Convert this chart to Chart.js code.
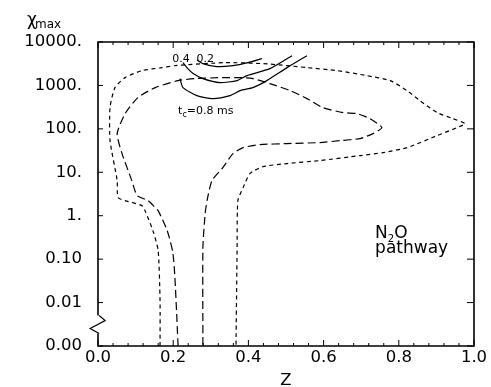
<!DOCTYPE html>
<html>
<head>
<meta charset="utf-8">
<script src="https://cdn.jsdelivr.net/npm/chart.js@4.4.1/dist/chart.umd.min.js"></script>
<style>
  html, body { margin: 0; padding: 0; background: #fff; }
  #wrap { width: 491px; height: 387px; }
</style>
</head>
<body>
<div id="wrap"><canvas id="chart"></canvas></div>
<script>
// outer contour (short dashes)
const outerZ = [0.165, 0.165, 0.160, 0.146, 0.125, 0.117, 0.072, 0.053, 0.051, 0.032, 0.032, 0.045, 0.072, 0.117, 0.170, 0.205, 0.338, 0.439, 0.503, 0.556, 0.636, 0.715, 0.777, 0.822, 0.856, 0.902, 0.944, 0.976, 0.955, 0.902, 0.822, 0.758, 0.697, 0.590, 0.503, 0.439, 0.404, 0.386, 0.372, 0.370, 0.367]
const outerChi = [0.001, 0.0111, 0.158, 0.455, 1.31, 1.71, 2.23, 2.62, 6.44, 53.7, 308, 890, 1513, 2192, 2570, 2857, 3350, 3177, 2857, 2570, 2192, 1680, 1290, 759, 447, 237, 172, 132, 107, 70, 37, 28.4, 24.2, 18.6, 15.9, 13.5, 9.33, 4.45, 2.23, 0.185, 0.001]

// inner contour (long dashes)
const innerZ = [0.213, 0.205, 0.199, 0.184, 0.160, 0.152, 0.133, 0.104, 0.090, 0.064, 0.051, 0.072, 0.106, 0.152, 0.213, 0.258, 0.330, 0.378, 0.412, 0.457, 0.511, 0.556, 0.598, 0.652, 0.689, 0.723, 0.755, 0.731, 0.697, 0.644, 0.590, 0.503, 0.431, 0.386, 0.359, 0.332, 0.303, 0.290, 0.285, 0.279, 0.279]
const innerChi = [0.001, 0.032, 0.142, 0.455, 1.31, 1.54, 2.23, 2.91, 6.44, 26.9, 77.8, 224, 524, 890, 1290, 1434, 1513, 1513, 1434, 1100, 759, 497, 308, 237, 224, 172, 107, 77.8, 59.7, 53.7, 48.3, 45.8, 43.4, 37, 26.9, 12.8, 6.44, 2.23, 1.12, 0.185, 0.001]

// solid curves, t_c = 0.2, 0.4, 0.8 ms
const tc02Z = [0.263, 0.279, 0.316, 0.359, 0.399, 0.436]
const tc02Chi = [3926, 3177, 2710, 2857, 3350, 4140]
const tc04Z = [0.226, 0.239, 0.253, 0.279, 0.324, 0.370, 0.396, 0.457, 0.516]
const tc04Chi = [3350, 2437, 1870, 1434, 1160, 1290, 1680, 2437, 4850]
const tc08Z = [0.218, 0.226, 0.263, 0.306, 0.351, 0.378, 0.412, 0.449, 0.503, 0.556]
const tc08Chi = [1434, 890, 582, 497, 582, 759, 890, 1290, 2570, 4850]

// axis break symbol on the left axis
const breakZ = [0.003, 0.019, -0.021, 0.003]
const breakChi = [0.00503, 0.00386, 0.00253, 0.00194]

const yTicks = [0.001, 0.01, 0.1, 1, 10, 100, 1000, 10000]
const yTickLabels = ["0.00", "0.01", "0.10", "1.", "10.", "100.", "1000.", "10000."]
const xTicks = [0, 0.2, 0.4, 0.6, 0.8, 1.0]

const FONT = "DejaVu Sans"

function pts(xs, ys) {
  return xs.map((v, i) => ({ x: v, y: ys[i] }))
}

function curve(xs, ys, dash) {
  return {
    data: pts(xs, ys),
    showLine: true,
    borderColor: "#000",
    borderWidth: 1.2,
    borderDash: dash,
    pointRadius: 0,
    tension: 0.2,
    fill: false
  }
}

// frame, inward ticks and the text labels
const decorations = {
  id: "decorations",
  afterDatasetsDraw(chart) {
    const { ctx, chartArea: a, scales: { x, y } } = chart
    ctx.save()
    ctx.strokeStyle = "#000"
    ctx.fillStyle = "#000"
    ctx.lineWidth = 1.6

    const gapTop = y.getPixelForValue(breakChi[0])
    const gapBottom = y.getPixelForValue(breakChi[breakChi.length - 1])
    ctx.beginPath()
    ctx.moveTo(a.left, gapTop)
    ctx.lineTo(a.left, a.top)
    ctx.lineTo(a.right, a.top)
    ctx.lineTo(a.right, a.bottom)
    ctx.lineTo(a.left, a.bottom)
    ctx.lineTo(a.left, gapBottom)
    ctx.stroke()

    ctx.lineWidth = 1
    ctx.beginPath()
    yTicks.forEach(v => {
      const py = y.getPixelForValue(v)
      ctx.moveTo(a.left, py); ctx.lineTo(a.left + 5, py)
      ctx.moveTo(a.right, py); ctx.lineTo(a.right - 7, py)
    })
    for (let k = 0; k <= 25; k++) {
      const px = x.getPixelForValue(k * 0.04)
      const len = k % 5 === 0 ? 6 : 3
      ctx.moveTo(px, a.bottom); ctx.lineTo(px, a.bottom - len)
      ctx.moveTo(px, a.top); ctx.lineTo(px, a.top + len)
    }
    ctx.stroke()

    // y axis title
    ctx.textAlign = "left"
    ctx.textBaseline = "alphabetic"
    ctx.font = `17px ${FONT}`
    ctx.fillText("χ", 27, a.top - 17)
    ctx.font = `12px ${FONT}`
    ctx.fillText("max", 35, a.top - 14)

    // curve labels
    ctx.font = `11px ${FONT}`
    ctx.textAlign = "center"
    ctx.fillText("0.4", x.getPixelForValue(0.221), y.getPixelForValue(3530))
    ctx.fillText("0.2", x.getPixelForValue(0.285), y.getPixelForValue(3530))

    ctx.textAlign = "left"
    let tx = x.getPixelForValue(0.213)
    const ty = y.getPixelForValue(224)
    ctx.font = `11px ${FONT}`
    ctx.fillText("t", tx, ty)
    tx += ctx.measureText("t").width
    ctx.font = `8px ${FONT}`
    ctx.fillText("c", tx, ty + 3)
    tx += ctx.measureText("c").width
    ctx.font = `11px ${FONT}`
    ctx.fillText("=0.8 ms", tx, ty)

    // N2O pathway
    let nx = x.getPixelForValue(0.737)
    const ny = y.getPixelForValue(0.314)
    ctx.font = `17px ${FONT}`
    ctx.fillText("N", nx, ny)
    nx += ctx.measureText("N").width
    ctx.font = `10px ${FONT}`
    ctx.fillText("2", nx, ny + 4)
    nx += ctx.measureText("2").width
    ctx.font = `17px ${FONT}`
    ctx.fillText("O", nx, ny)
    ctx.fillText("pathway", x.getPixelForValue(0.737), y.getPixelForValue(0.135))

    ctx.restore()
  }
}

new Chart(document.getElementById("chart"), {
  type: "scatter",
  data: {
    datasets: [
      curve(outerZ, outerChi, [4, 3.5]),
      curve(innerZ, innerChi, [8, 4]),
      curve(tc02Z, tc02Chi, []),
      curve(tc04Z, tc04Chi, []),
      curve(tc08Z, tc08Chi, []),
      Object.assign(curve(breakZ, breakChi, []), { tension: 0, clip: false })
    ]
  },
  options: {
    responsive: true,
    maintainAspectRatio: false,
    animation: false,
    layout: { padding: { top: 42, right: 17, left: 0, bottom: 0 } },
    plugins: {
      legend: { display: false },
      tooltip: { enabled: false }
    },
    scales: {
      x: {
        type: "linear",
        min: 0,
        max: 1,
        afterBuildTicks: scale => { scale.ticks = xTicks.map(v => ({ value: v })) },
        afterFit: scale => { scale.height = 41 },
        grid: { display: false, drawTicks: false },
        border: { display: false },
        ticks: {
          color: "#000",
          padding: 2,
          font: { family: FONT, size: 16.5 },
          callback: v => v.toFixed(1)
        },
        title: {
          display: true,
          text: "Z",
          color: "#000",
          font: { family: FONT, size: 16.5 },
          padding: { top: 0, bottom: -4 }
        }
      },
      y: {
        type: "logarithmic",
        min: 0.001,
        max: 10000,
        afterBuildTicks: scale => { scale.ticks = yTicks.map(v => ({ value: v })) },
        afterFit: scale => { scale.width = 98 },
        grid: { display: false, drawTicks: false },
        border: { display: false },
        ticks: {
          color: "#000",
          padding: 16,
          font: { family: FONT, size: 16.5 },
          callback: (v, i) => yTickLabels[i]
        }
      }
    }
  },
  plugins: [decorations]
})
</script>
</body>
</html>
